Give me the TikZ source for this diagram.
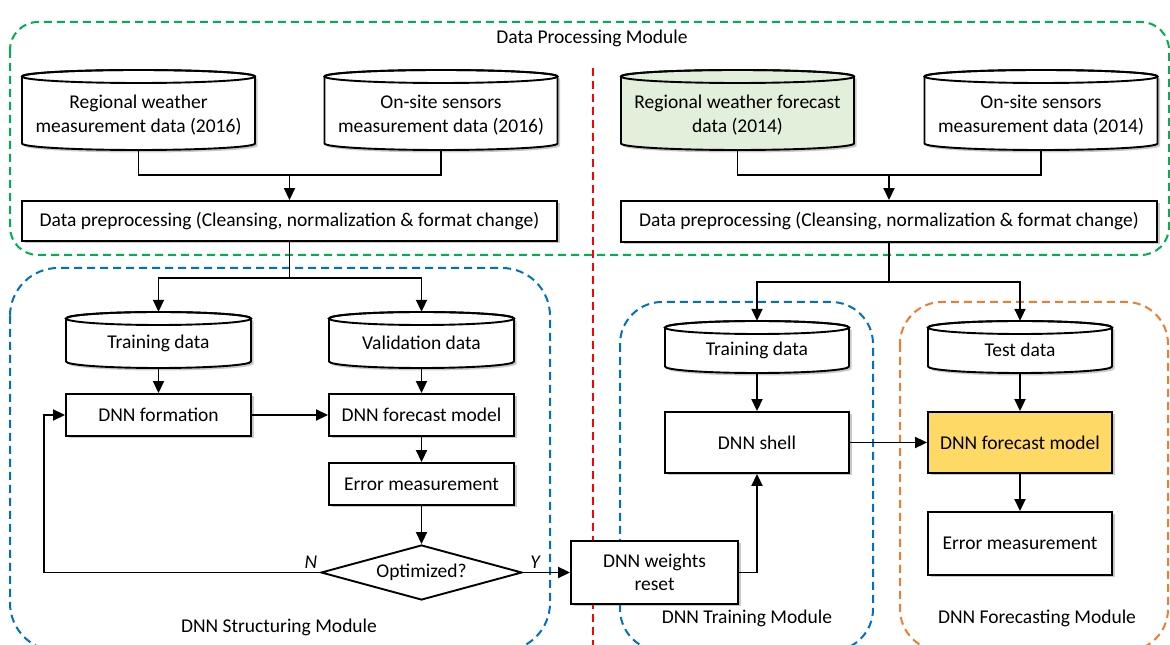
\documentclass[tikz,border=0pt]{standalone}
\usepackage{fontspec}
\setmainfont{Carlito}
\usetikzlibrary{arrows.meta,shapes.geometric,shadows}
\definecolor{dgreen}{HTML}{00B050}
\definecolor{dblue}{HTML}{0070C0}
\definecolor{dorange}{HTML}{ED7D31}
\definecolor{dred}{HTML}{FF0000}
\definecolor{cylgreen}{HTML}{E2EFDA}
\definecolor{fyellow}{HTML}{FFD966}
\tikzset{
  lw/.style={line width=1.9pt},
  shad/.style={drop shadow={shadow xshift=2.5pt,shadow yshift=-2.5pt,opacity=0.3,fill=black!70}},
  box/.style={draw,lw,fill=white,shad,align=center,inner sep=2pt},
  conn/.style={lw},
  arr/.style={lw,-{Triangle[length=12pt,width=11pt]}},
  modbox/.style={line width=2pt,dash pattern=on 8pt off 5pt,rounded corners=#1},
  txt/.style={align=center,inner sep=1pt},
}
\def\cylry{6.5}
\newcommand\dbnode[8]{%
  \draw[lw,fill=#6,shad] ({#2-#4/2},{#3+#5/2-\cylry}) -- ({#2-#4/2},{#3-#5/2+\cylry})
     arc[start angle=180,end angle=360,x radius={#4/2},y radius=\cylry]
     -- ({#2+#4/2},{#3+#5/2-\cylry})
     arc[start angle=0,end angle=180,x radius={#4/2},y radius=\cylry] -- cycle;
  \draw[lw] ({#2},{#3+#5/2-\cylry}) ellipse[x radius={#4/2},y radius=\cylry];
  \node[inner sep=0,minimum width=#4,minimum height=#5] (#1) at (#2,#3) {};
  \node[txt] (#1-t) at (#2,{#3-#8}) {#7};
}
\begin{document}
\begin{tikzpicture}[x=1pt,y=1pt,every node/.style={font=\fontsize{19.5}{23.5}\selectfont}]
\useasboundingbox (0,0) rectangle (1170,645);
% module boxes
\draw[modbox=28,dgreen] (10,623) rectangle (1169,390);
\draw[modbox=48,dblue] (10,377) rectangle (550,-6);
\draw[modbox=42,dblue] (620,343) rectangle (873,-6);
\draw[modbox=42,dorange] (900,343) rectangle (1168,-6);
\draw[line width=1.6pt,dred,dash pattern=on 8pt off 5pt] (593,577) -- (593,0);
% module labels
\node[txt] (lbl-dp) at (592,607) {Data Processing Module};
\node[txt] (lbl-st) at (279,18) {DNN Structuring Module};
\node[txt] (lbl-tr) at (747,27) {DNN Training Module};
\node[txt] (lbl-fc) at (1037,27) {DNN Forecasting Module};
% top cylinders
\dbnode{c1}{138.5}{535}{233}{80}{white}{Regional weather\\measurement data (2016)}{5}
\dbnode{c2}{441}{535}{233}{80}{white}{On-site sensors\\measurement data (2016)}{5}
\dbnode{c3}{737.5}{535}{233}{80}{cylgreen}{Regional weather forecast\\data (2014)}{5}
\dbnode{c4}{1041}{535}{233}{80}{white}{On-site sensors\\measurement data (2014)}{5}
% preprocessing
\node[box,minimum width=535,minimum height=40] (pp1) at (289.5,424) {Data preprocessing (Cleansing, normalization \& format change)};
\node[box,minimum width=536,minimum height=41] (pp2) at (889,423.5) {Data preprocessing (Cleansing, normalization \& format change)};
% lower cylinders
\dbnode{tr1}{158.5}{305}{185}{56}{white}{Training data}{3}
\dbnode{va1}{421.5}{305}{185}{56}{white}{Validation data}{3}
\dbnode{tr2}{757}{298}{184}{52}{white}{Training data}{3}
\dbnode{te}{1020}{298}{184}{52}{white}{Test data}{3}
% structuring boxes
\node[box,minimum width=185,minimum height=42] (form) at (158.5,230) {DNN formation};
\node[box,minimum width=185,minimum height=42] (fm1) at (421.5,230) {DNN forecast model};
\node[box,minimum width=185,minimum height=42] (err1) at (421.5,161) {Error measurement};
\node[draw,lw,fill=white,diamond,aspect=3.65,inner sep=0,minimum width=201,minimum height=55] (opt) at (421.5,72.5) {Optimized?};
\node[box,minimum width=167,minimum height=63] (wr) at (654.5,72.5) {DNN weights\\reset};
\node[box,minimum width=184,minimum height=61] (shell) at (757,202.5) {DNN shell};
\node[box,fill=fyellow,minimum width=184,minimum height=61] (fm2) at (1020,202.5) {DNN forecast model};
\node[box,minimum width=184,minimum height=63] (err2) at (1020,101.5) {Error measurement};
% labels N / Y
\node[txt,font=\fontsize{19.5}{23}\selectfont\itshape] (lN) at (311,83) {N};
\node[txt,font=\fontsize{19.5}{23}\selectfont\itshape] (lY) at (535,83) {Y};
% coordinates
\coordinate (m1) at (289.5,470);
\coordinate (m2) at (889,470);
\coordinate (s1) at (289.5,367);
\coordinate (s2) at (889,363);
\coordinate (lp) at (44,230);
% connectors
\draw[conn] (c1.south) |- (m1);
\draw[conn] (c2.south) |- (m1);
\draw[arr] (m1) -- (pp1.north);
\draw[conn] (c3.south) |- (m2);
\draw[conn] (c4.south) |- (m2);
\draw[arr] (m2) -- (pp2.north);
\draw[conn] (pp1.south) -- (s1);
\draw[arr] (s1) -| (tr1.north);
\draw[arr] (s1) -| (va1.north);
\draw[conn] (pp2.south) -- (s2);
\draw[arr] (s2) -| (tr2.north);
\draw[arr] (s2) -| (te.north);
\draw[arr] (tr1.south) -- (form.north);
\draw[arr] (va1.south) -- (fm1.north);
\draw[arr] (form.east) -- (fm1.west);
\draw[arr] (fm1.south) -- (err1.north);
\draw[arr] (err1.south) -- (opt.north);
\draw[arr] (opt.west) -| (lp) -- (form.west);
\draw[arr] (opt.east) -- (wr.west);
\draw[arr] (wr.east) -| (shell.south);
\draw[arr] (tr2.south) -- (shell.north);
\draw[arr] (shell.east) -- (fm2.west);
\draw[arr] (te.south) -- (fm2.north);
\draw[arr] (fm2.south) -- (err2.north);
\end{tikzpicture}
\end{document}
